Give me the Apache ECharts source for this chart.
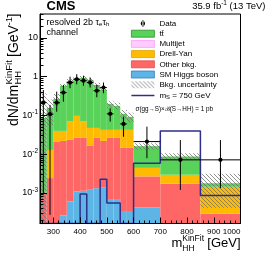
<!DOCTYPE html>
<html><head><meta charset="utf-8">
<script src="https://cdn.jsdelivr.net/npm/echarts@6/dist/echarts.min.js"></script>
<style>html,body{margin:0;padding:0;background:#fff}#c{width:266px;height:255px}</style>
</head><body><div id="c"></div>
<script>
// ---------- data ----------
const binEdges = [250,275,300,325,350,375,400,425,450,475,500,525,550,575,600,700,850,1000];
const smHiggs  = [0,0,0,2.6e-4,6.0e-4,1.08e-3,1.13e-3,1.25e-3,1.32e-3,1.4e-3,6.6e-4,6.6e-4,3.4e-4,3.4e-4,4.2e-4,0,0];
const otherBkg = [1.0e-3,2.4e-3,0.0206,0.0216,0.0226,0.0251,0.0251,0.0150,0.0249,0.0205,0.0255,0.0255,0.0142,0.0142,2.24e-3,1.71e-3,2.9e-4];
const drellYan = [0,0.0104,0.019,0.0177,0.0457,0.0704,0.0427,0.031,0.0211,0.0202,0.0159,0.0159,0.0276,0.0276,1.75e-3,1.2e-3,1.14e-3];
const multijet = [0,0,0,0,0,0,0,0,0,0,0,0,0,0,0,0,0];
const ttbar    = [0.0847,0.142,0.225,0.533,0.702,0.796,0.851,0.770,0.561,0.410,0.155,0.133,0.067,0.049,0.0116,0.0058,3.3e-4];
const bkgUnc   = [0.28,0.1,0.09,0.075,0.1,0.115,0.115,0.105,0.08,0.06,0.04,0.036,0.028,0.026,0.003,0.0018,0.00135];
const dataVal  = [0.212,0.107,0.212,0.385,0.70,0.85,0.78,0.70,0.43,0.52,0.109,null,0.060,null,0.021,0.0071,0.0071];
const dataHi   = [0.45,0.185,0.408,0.608,0.99,1.15,1.05,0.94,0.608,0.70,0.152,null,0.092,null,0.051,0.023,0.023];
const dataLo   = [9.4e-4,2.7e-4,0.124,0.225,0.50,0.63,0.58,0.52,0.292,0.37,0.069,null,0.028,null,0.0078,0.00119,0.00132];
const signal750 = [0,0,0,0,0,0,9.3e-4,0,0,2.25e-3,5.5e-4,5.5e-4,0,0,5.8e-3,0.0392,8.6e-4];
const xTickLabels = [300,400,500,600,700,800,900,1000];
const yTickLabels = [1e-3,1e-2,1e-1,1,10];
const YMIN = 1.62e-4, YMAX = 41, XMIN = 250, XMAX = 1000;

const FONT = '"Liberation Sans", Arial, sans-serif';
const SIG_NAME = 'mS = 750 GeV';

// minor ticks
const xMinor = [];
for (let v = 260; v <= 1000; v += 20) if (v % 100 !== 0) xMinor.push(v);
const yMinor = [];
for (let e = -4; e <= 1; e++) for (let k = 2; k <= 9; k++) { const v = k * Math.pow(10, e); if (v > YMIN && v < YMAX) yMinor.push(v); }

// hatch pattern
const hc = document.createElement('canvas'); hc.width = 4; hc.height = 4;
const hx = hc.getContext('2d'); hx.fillStyle = 'rgba(110,110,110,0.75)';
for (let i = 0; i < 4; i++) hx.fillRect(i, i, 1, 1);
const hatch = {image: hc, repeat: 'repeat'};

const nb = binEdges.length - 1;
function rectRender(fill) {
  return function (params, api) {
    const lo = api.value(2), hi = api.value(3);
    if (!(hi > lo)) return null;
    const a = api.coord([api.value(0), hi]);
    const b = api.coord([api.value(1), lo]);
    return {type: 'rect', shape: {x: a[0], y: a[1], width: b[0] - a[0], height: b[1] - a[1]}, style: {fill: fill}};
  };
}
const stackDefs = [
  {name: 'SM Higgs boson', vals: smHiggs, color: '#5db5e6', border: '#3b78c0'},
  {name: 'Other bkg.', vals: otherBkg, color: '#ff6767', border: '#e04b4b'},
  {name: 'Drell-Yan', vals: drellYan, color: '#ffbb00', border: '#e09e00'},
  {name: 'Multijet', vals: multijet, color: '#ffccff', border: '#ff99ff'},
  {name: 't' + 't\u0304', vals: ttbar, color: '#58d258', border: '#2f8f2f'}
];
const cum = new Array(nb).fill(0);
const series = [];
stackDefs.forEach(d => {
  const items = [];
  for (let i = 0; i < nb; i++) {
    const lo = cum[i], hi = lo + d.vals[i];
    cum[i] = hi;
    items.push([binEdges[i], binEdges[i + 1], Math.max(lo, YMIN), Math.max(hi, YMIN)]);
  }
  series.push({type: 'custom', name: d.name, renderItem: rectRender(d.color), data: items,
    encode: {x: [0, 1], y: [2, 3]}, itemStyle: {color: d.color}, silent: true, animation: false, z: 2});
});
// uncertainty band
const uncItems = [];
for (let i = 0; i < nb; i++) uncItems.push([binEdges[i], binEdges[i + 1], Math.max(cum[i] - bkgUnc[i], YMIN), cum[i] + bkgUnc[i]]);
series.push({type: 'custom', name: 'Bkg. uncertainty', renderItem: rectRender(hatch), data: uncItems,
  encode: {x: [0, 1], y: [2, 3]}, itemStyle: {color: '#888'}, silent: true, animation: false, z: 3});
// signal
const sigPts = [];
for (let i = 0; i < nb; i++) sigPts.push([binEdges[i], Math.max(signal750[i], YMIN)]);
sigPts.push([binEdges[nb], Math.max(signal750[nb - 1], YMIN)]);
series.push({type: 'line', name: SIG_NAME, step: 'end', data: sigPts, symbol: 'none', showSymbol: false,
  lineStyle: {color: '#2e2e8c', width: 1.5}, itemStyle: {color: '#2e2e8c'}, silent: true, animation: false, z: 4});
// data points
const dItems = [];
for (let i = 0; i < nb; i++) if (dataVal[i] != null)
  dItems.push([(binEdges[i] + binEdges[i + 1]) / 2, binEdges[i], binEdges[i + 1], dataVal[i], Math.max(dataLo[i], YMIN), dataHi[i]]);
series.push({type: 'custom', name: 'Data', data: dItems, encode: {x: [0], y: [3]}, itemStyle: {color: '#000'},
  silent: true, animation: false, z: 5,
  renderItem: function (params, api) {
    const c = api.coord([api.value(0), api.value(3)]);
    const l = api.coord([api.value(1), api.value(3)]);
    const r = api.coord([api.value(2), api.value(3)]);
    const lo = api.coord([api.value(0), api.value(4)]);
    const hi = api.coord([api.value(0), api.value(5)]);
    const st = {stroke: '#000', lineWidth: 1};
    return {type: 'group', children: [
      {type: 'line', shape: {x1: c[0], y1: lo[1], x2: c[0], y2: hi[1]}, style: st},
      {type: 'line', shape: {x1: l[0], y1: c[1], x2: r[0], y2: c[1]}, style: st},
      {type: 'circle', shape: {cx: c[0], cy: c[1], r: 2.1}, style: {fill: '#000'}}
    ]};
  }});

const pathBox = 'M0,0 L0,0 Z M23,7 L23,7 Z ';
const legendData = [
  {name: 'Data', icon: 'path://' + pathBox + 'M9.3,3.5 A2.2,2.2 0 1,0 13.7,3.5 A2.2,2.2 0 1,0 9.3,3.5 Z M11,0.3 L12,0.3 L12,6.7 L11,6.7 Z', itemStyle: {color: '#000'}},
  ...stackDefs.slice().reverse().map(d => ({name: d.name, icon: 'rect', itemStyle: {color: d.color, borderColor: d.border, borderWidth: 0.8}})),
  {name: 'Bkg. uncertainty', icon: 'rect', itemStyle: {color: hatch, borderWidth: 0}},
  {name: SIG_NAME, icon: 'path://' + pathBox + 'M0,2.9 L23,2.9 L23,4.3 L0,4.3 Z', itemStyle: {color: '#2e2e8c'}}
];

const chart = echarts.init(document.getElementById('c'), null, {renderer: 'canvas', width: 266, height: 255});
const gridRect = {left: 40, top: 14, right: 25.5, bottom: 31.5};
chart.setOption({
  animation: false,
  backgroundColor: '#fff',
  grid: [
    Object.assign({show: true, borderColor: '#000', borderWidth: 1, backgroundColor: 'transparent', z: 10}, gridRect),
    Object.assign({show: false}, gridRect)
  ],
  xAxis: [
    {type: 'value', gridIndex: 0, min: XMIN, max: XMAX, z: 10,
      axisLine: {show: true, lineStyle: {color: '#000', width: 1}},
      axisTick: {show: true, inside: true, length: 6, customValues: xTickLabels, lineStyle: {color: '#000'}},
      axisLabel: {show: true, customValues: xTickLabels, fontSize: 8, color: '#000', margin: 4, fontFamily: FONT,
        alignMaxLabel: 'right', formatter: function (v) { return String(v); }},
      splitLine: {show: false}},
    {type: 'value', gridIndex: 1, min: XMIN, max: XMAX, z: 10,
      axisLine: {show: false},
      axisTick: {show: true, inside: true, length: 3, customValues: xMinor, lineStyle: {color: '#000'}},
      axisLabel: {show: false}, splitLine: {show: false}}
  ],
  yAxis: [
    {type: 'log', logBase: 10, gridIndex: 0, min: YMIN, max: YMAX, z: 10,
      axisLine: {show: true, lineStyle: {color: '#000', width: 1}},
      axisTick: {show: true, inside: true, length: 7, customValues: yTickLabels, lineStyle: {color: '#000'}},
      axisLabel: {show: true, customValues: yTickLabels, color: '#000', fontSize: 9, margin: 2, fontFamily: FONT,
        formatter: function (v) {
          const e = Math.round(Math.log10(v));
          if (e === 0) return '1';
          if (e === 1) return '10';
          return '10{sup|' + e + '}';
        },
        rich: {sup: {fontSize: 6.5, fontFamily: FONT, color: '#000', padding: [0, 0, 6, 0]}}},
      splitLine: {show: false}},
    {type: 'log', logBase: 10, gridIndex: 1, min: YMIN, max: YMAX, z: 10,
      axisLine: {show: false},
      axisTick: {show: true, inside: true, length: 3.5, customValues: yMinor, lineStyle: {color: '#000'}},
      axisLabel: {show: false}, splitLine: {show: false}}
  ],
  legend: {
    orient: 'vertical', left: 131, top: 19.5, itemWidth: 23, itemHeight: 7, itemGap: 2.2, padding: 0,
    selectedMode: false, data: legendData,
    textStyle: {fontSize: 8, lineHeight: 8, color: '#000', fontFamily: FONT,
      rich: {sub: {fontSize: 5.8, lineHeight: 8, fontFamily: FONT, color: '#000', padding: [3, 0, 0, 0]}}},
    formatter: function (n) { return n === SIG_NAME ? 'm{sub|S} = 750 GeV' : n; }
  },
  graphic: [
    {type: 'text', x: 46.5, y: 6.6, style: {text: 'CMS', font: 'bold 13px ' + FONT, fill: '#000', align: 'left', verticalAlign: 'middle'}},
    {type: 'text', x: 265.5, y: 6.6, style: {text: '35.9 fb{sup|-1} (13 TeV)', fontSize: 9.5, fontFamily: FONT, fill: '#000', align: 'right', verticalAlign: 'middle',
      rich: {sup: {fontSize: 6.5, fontFamily: FONT, padding: [0, 0, 6, 0]}}}},
    {type: 'text', x: 46.5, y: 22.2, style: {text: 'resolved 2b \u03c4{sub|e}\u03c4{sub|h}', fontSize: 9, fontFamily: FONT, fill: '#000', align: 'left', verticalAlign: 'middle',
      rich: {sub: {fontSize: 6, fontFamily: FONT, padding: [4, 0, 0, 0]}}}},
    {type: 'text', x: 46.5, y: 33, style: {text: 'channel', fontSize: 9, fontFamily: FONT, fill: '#000', align: 'left', verticalAlign: 'middle'}},
    {type: 'text', x: 135.5, y: 109.3, style: {text: '\u03c3(gg\u2192S)\u00d7\u212c(S\u2192HH) = 1 pb', fontSize: 6.3, fontFamily: FONT, fill: '#000', align: 'left', verticalAlign: 'middle'}},
    // x axis title
    {type: 'group', x: 0, y: 0, children: [
      {type: 'text', x: 171.5, y: 243.5, style: {text: 'm', fontSize: 13, fontFamily: FONT, fill: '#000', align: 'left', verticalAlign: 'middle'}},
      {type: 'text', x: 182.3, y: 238.5, style: {text: 'KinFit', fontSize: 8.5, fontFamily: FONT, fill: '#000', align: 'left', verticalAlign: 'middle'}},
      {type: 'text', x: 182.3, y: 248.5, style: {text: 'HH', fontSize: 8.5, fontFamily: FONT, fill: '#000', align: 'left', verticalAlign: 'middle'}},
      {type: 'text', x: 240.5, y: 243.5, style: {text: '[GeV]', fontSize: 13, fontFamily: FONT, fill: '#000', align: 'right', verticalAlign: 'middle'}}
    ]},
    // y axis title (rotated)
    {type: 'group', x: 18.5, y: 126, rotation: Math.PI / 2, children: [
      {type: 'text', x: 0, y: -4.3, style: {text: 'dN/dm', fontSize: 14, fontFamily: FONT, fill: '#000', align: 'left', verticalAlign: 'middle'}},
      {type: 'text', x: 41.5, y: -8.8, style: {text: 'KinFit', fontSize: 9.5, fontFamily: FONT, fill: '#000', align: 'left', verticalAlign: 'middle'}},
      {type: 'text', x: 41.5, y: 0.2, style: {text: 'HH', fontSize: 9.5, fontFamily: FONT, fill: '#000', align: 'left', verticalAlign: 'middle'}},
      {type: 'text', x: 69, y: -4.3, style: {text: '[GeV', fontSize: 14, fontFamily: FONT, fill: '#000', align: 'left', verticalAlign: 'middle'}},
      {type: 'text', x: 100.5, y: -9.5, style: {text: '-1', fontSize: 9.5, fontFamily: FONT, fill: '#000', align: 'left', verticalAlign: 'middle'}},
      {type: 'text', x: 108.5, y: -4.3, style: {text: ']', fontSize: 14, fontFamily: FONT, fill: '#000', align: 'left', verticalAlign: 'middle'}}
    ]}
  ],
  series: series
});
</script>
</body></html>
